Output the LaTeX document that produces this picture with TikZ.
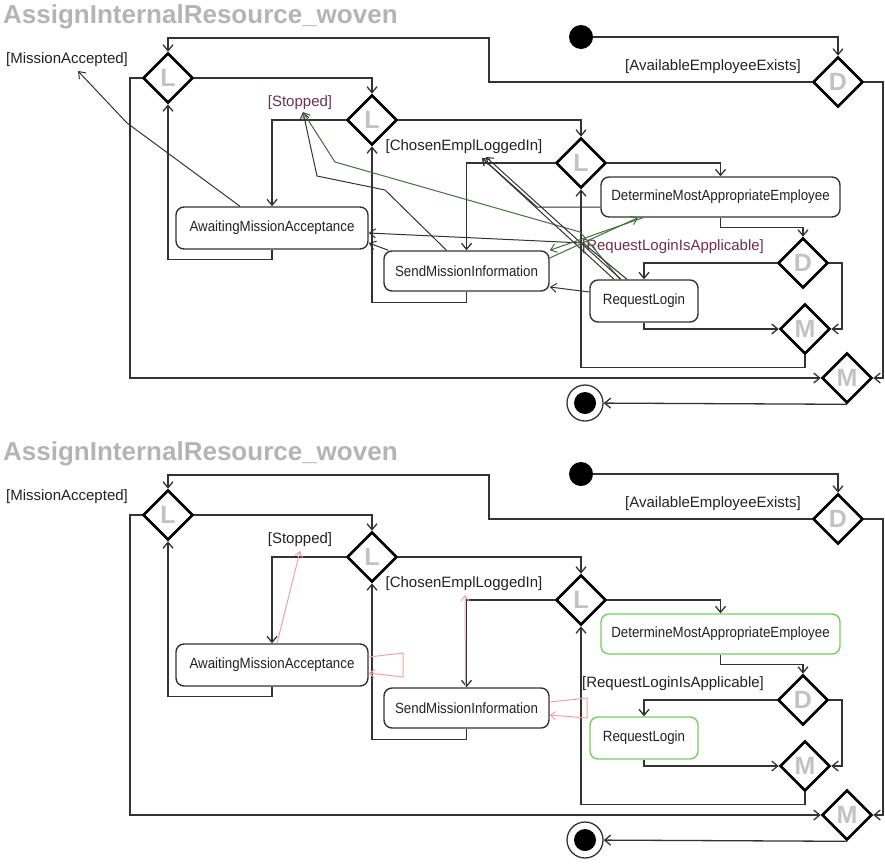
\documentclass[tikz,border=0pt]{standalone}
\usepackage{fontspec}
\setmainfont{Liberation Sans}
\newfontfamily\actfont[FakeStretch=0.9]{Liberation Sans}
\usetikzlibrary{arrows.meta,shapes.geometric}

\definecolor{ink}{HTML}{333333}
\definecolor{guardink}{HTML}{222222}
\definecolor{titlegray}{HTML}{B4B4B4}
\definecolor{lettergray}{HTML}{C2C2C2}
\definecolor{guardred}{HTML}{6E3050}
\definecolor{weavegreen}{HTML}{3F6E3A}
\definecolor{okgreen}{HTML}{78CC66}
\definecolor{pinkline}{HTML}{F2A2A2}

\tikzset{
  flow/.style={draw=ink, line width=1.3pt, -{Straight Barb[length=6pt,width=10pt]}},
  weave/.style={draw=ink, line width=1pt, -{Straight Barb[length=6pt,width=9pt]}},
  pinkarrow/.style={draw=pinkline, line width=1pt, -{Straight Barb[length=5pt,width=8pt]}},
  ctl/.style={diamond, draw=black, line width=2.6pt, minimum width=50pt, minimum height=50pt,
    inner sep=0pt, text=lettergray, font=\fontsize{25}{25}\selectfont\bfseries},
  act/.style={rectangle, rounded corners=8pt, draw=ink, line width=1.4pt,
    font=\actfont\fontsize{14.8}{16}\selectfont, text=guardink, inner sep=0pt},
  guard/.style={font=\fontsize{15}{17}\selectfont, text=guardink, inner sep=0pt},
  diagtitle/.style={font=\fontsize{26}{30}\selectfont\bfseries, text=titlegray, inner sep=0pt},
  initial/.style={circle, fill=black, minimum size=24pt, inner sep=0pt},
  final/.style={circle, draw=ink, line width=1.3pt, minimum size=36pt, inner sep=0pt,
    path picture={\fill[black] (path picture bounding box.center) circle (11pt);}},
}

% Shared activity structure: nodes, guards and control flow
\newcommand\actcore{%
  \node[diagtitle, anchor=west] (title) at (3,17) {AssignInternalResource\_woven};
  \node[initial] (init) at (581,37) {};
  \node[ctl] (D1) at (838,82) {D};
  \node[ctl] (L1) at (168,78) {L};
  \node[ctl] (L2) at (372,120) {L};
  \node[ctl] (L3) at (581,163) {L};
  \node[ctl] (D2) at (803,263) {D};
  \node[ctl] (Ms) at (805,329) {M};
  \node[ctl] (Mb) at (847,378) {M};
  \node[final] (fin) at (585,403) {};
  \node[act, minimum width=192pt, minimum height=42pt] (AMA) at (272,228) {AwaitingMissionAcceptance};
  \node[act, minimum width=165pt, minimum height=40pt] (SMI) at (466.5,271) {SendMissionInformation};
  \node[act, newact, minimum width=239pt, minimum height=40pt] (DMAE) at (720.5,197) {DetermineMostAppropriateEmployee};
  \node[act, newact, minimum width=108pt, minimum height=42pt] (RL) at (644,301) {RequestLogin};
  \node[guard] (gMiss) at (67,60) {[MissionAccepted]};
  \node[guard, hl] (gStop) at (300,103) {[Stopped]};
  \node[guard] (gChosen) at (464,147) {[ChosenEmplLoggedIn]};
  \node[guard] (gAvail) at (713,67) {[AvailableEmployeeExists]};
  \node[guard, hl] (gReq) at (673,247) {[RequestLoginIsApplicable]};
  \draw[flow] (init) -| (D1.north);
  \draw[flow] (D1.west) -| (489,38) -| (L1.north);
  \draw[flow] (D1.east) -- (883,82) |- (Mb.east);
  \draw[flow] (L1.west) -- (130,78) |- (Mb.west);
  \draw[flow] (L1.east) -| (L2.north);
  \draw[flow] (AMA.south) -- ++(0,10) -| (L1.south);
  \draw[flow] (L2.west) -| (AMA.north);
  \draw[flow] (SMI.south) -- ++(0,11) -| (L2.south);
  \draw[flow] (L2.east) -| (L3.north);
  \draw[flow] (L3.west) -| (SMI.north);
  \draw[flow] (L3.east) -| (DMAE.north);
  \draw[flow] (DMAE.south) -- ++(0,10) -| (D2.north);
  \draw[flow] (D2.west) -| (RL.north);
  \draw[flow] (D2.east) -- (842,263) |- (Ms.east);
  \draw[flow] (RL.south) |- (Ms.west);
  \draw[flow] (Ms.south) -- ++(0,12) -| (L3.south);
  \draw[flow] (Mb.south) -- (fin);
}

\begin{document}
\begin{tikzpicture}[x=1pt, y=-1pt]
  \useasboundingbox (0,0) rectangle (885,865);

  % Upper activity with the woven cross-references
  \begin{scope}[name prefix=t-, hl/.style={text=guardred}, newact/.style={draw=ink}]
    \actcore
    \coordinate (stopTip) at (303,112);
    \coordinate (chosenTip) at (482,158);
    \coordinate (missTip) at (78,71);
    \draw[weave] ([xshift=-32pt]AMA.north) -- (127,123) -- (missTip);
    \draw[weave] ([xshift=-20pt]SMI.north) -- (385,190) -- (317,176) -- (stopTip);
    \draw[weave, draw=weavegreen] ([xshift=-24pt]RL.north) -- (580,232) -- (335,162) -- (stopTip);
    \draw[weave] (DMAE.west |- 0,207) -- (537,207) -- (chosenTip);
    \draw[weave] ([xshift=-30pt]RL.north) -- (chosenTip);
    \draw[weave] ([xshift=-23pt]RL.north) -- (486,157);
    \draw[weave] ([xshift=-17pt]RL.north) -- (583,243) -- (AMA.east |- 0,233);
    \draw[weave] ([xshift=-78pt]SMI.north) -- (AMA.east |- 0,243);
    \draw[weave] (RL.west |- 0,292) -- (SMI.east |- 0,287);
    \draw[weave, draw=weavegreen] (DMAE.south -| 643,0) -- (SMI.north east);
    \draw[weave, draw=weavegreen] (SMI.east |- 0,258) -- (DMAE.south -| 638,0);
  \end{scope}

  % Lower activity with self-references and new actions
  \begin{scope}[yshift=-437pt, name prefix=b-, hl/.style={}, newact/.style={draw=okgreen}]
    \actcore
    \draw[pinkarrow] ([xshift=5pt]AMA.north) -- (300,114);
    \draw[pinkarrow] ([yshift=8pt]AMA.east) -- (403,216) -- (403,240) -- ([yshift=-8pt]AMA.east);
    \draw[pinkarrow] ([xshift=-1pt]SMI.north) -- (465,158);
    \draw[pinkarrow] ([yshift=6pt]SMI.east) -- (587,261) -- (587,281) -- ([yshift=-7pt]SMI.east);
  \end{scope}
\end{tikzpicture}
\end{document}
